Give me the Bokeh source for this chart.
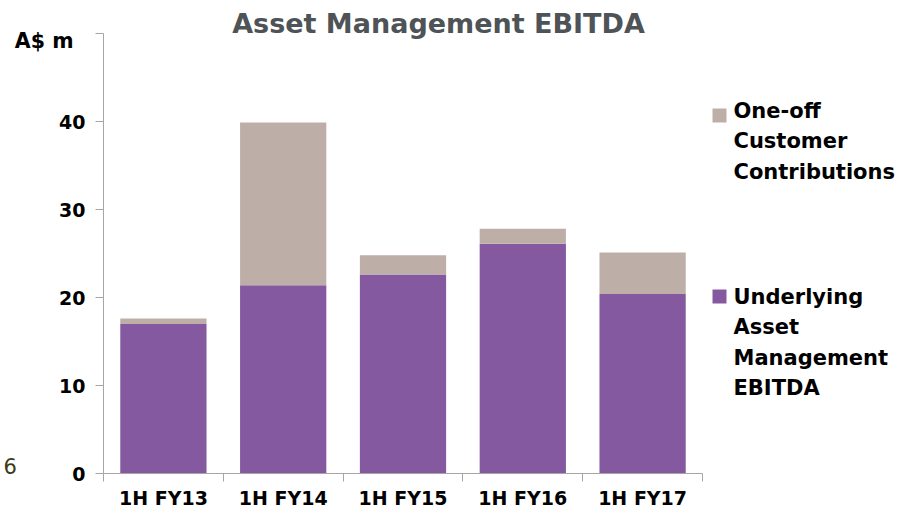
from bokeh.plotting import figure
from bokeh.models import Range1d, FixedTicker, ColumnDataSource
from bokeh.core.properties import value
from bokeh.embed import file_html
from bokeh.resources import INLINE

categories = ["1H FY13", "1H FY14", "1H FY15", "1H FY16", "1H FY17"]
underlying = [17.0, 21.4, 22.6, 26.1, 20.4]
one_off = [0.6, 18.5, 2.2, 1.7, 4.7]
y_ticks = [0, 10, 20, 30, 40, 50]
legend_one_off = ["One-off", "Customer", "Contributions"]
legend_underlying = ["Underlying", "Asset", "Management", "EBITDA"]
title_text = "Asset Management EBITDA"
unit_text = "A$ m"
page_number = "6"

FONT = "DejaVu Sans"
PURPLE = "#8459A0"
GREY = "#BDAFA8"
AXIS = "#A6A6A6"

W, H = 900, 512
# pixel geometry of the plotting area within the canvas
X0, PXU = 103.0, 119.8     # x=0 at px 103, 119.8 px per category
Y0, PYU = 473.0, 8.8       # y=0 at px 473, 8.8 px per unit

p = figure(width=W, height=H, output_backend="svg", toolbar_location=None,
           x_range=Range1d(-X0 / PXU, (W - X0) / PXU),
           y_range=Range1d(-(H - Y0) / PYU, Y0 / PYU),
           min_border=0)
p.outline_line_color = None
p.grid.visible = False
p.background_fill_color = "white"
p.border_fill_color = "white"

xs = [i + 0.5 for i in range(len(categories))]
tops = [u + o for u, o in zip(underlying, one_off)]
src = ColumnDataSource(dict(x=xs, u=underlying, o=one_off, t=tops))
p.vbar(x="x", bottom=0, top="u", width=0.72, source=src, fill_color=PURPLE, line_color=None)
p.vbar(x="x", bottom="u", top="t", width=0.72, source=src, fill_color=GREY, line_color=None)

# x axis
xa = p.xaxis[0]
xa.fixed_location = 0
xa.bounds = (0, len(categories))
xa.ticker = FixedTicker(ticks=xs, minor_ticks=list(range(len(categories) + 1)))
xa.major_label_overrides = {x: c for x, c in zip(xs, categories)}
xa.major_tick_out = 0
xa.major_tick_in = 0
xa.minor_tick_out = 8
xa.minor_tick_in = 0
xa.axis_line_color = AXIS
xa.minor_tick_line_color = AXIS
xa.major_label_text_font = FONT
xa.major_label_text_font_style = "bold"
xa.major_label_text_font_size = "19px"
xa.major_label_text_color = "black"
xa.major_label_standoff = 5

# y axis
ya = p.yaxis[0]
ya.fixed_location = 0
ya.bounds = (0, 50)
ya.ticker = FixedTicker(ticks=y_ticks)
ya.major_label_overrides = {50: ""}
ya.minor_tick_line_color = None
ya.major_tick_out = 8
ya.major_tick_in = 0
ya.axis_line_color = AXIS
ya.major_tick_line_color = AXIS
ya.major_label_text_font = FONT
ya.major_label_text_font_style = "bold"
ya.major_label_text_font_size = "19px"
ya.major_label_text_color = "black"
ya.major_label_standoff = 10

def dx(px):
    return (px - X0) / PXU

def dy(py):
    return (Y0 - py) / PYU

def txt(xs_, ys_, texts, size, color="black", style="bold", align="left"):
    p.text(x=xs_, y=ys_, text=texts, text_font=value(FONT), text_font_size=size,
           text_font_style=style, text_color=color, text_align=align,
           text_baseline="middle")

txt([dx(438)], [dy(23)], [title_text], "27px", color="#4D5356", align="center")
txt([dx(73)], [dy(40)], [unit_text], "20.5px", align="right")
txt([dx(3)], [dy(465)], [page_number], "21px", color="#3B3B14", style="normal")

# legend
LINE = 30.5
p.rect(x=[dx(719), dx(719)], y=[dy(115), dy(296)], width=14, height=14,
       width_units="screen", height_units="screen",
       fill_color=[GREY, PURPLE], line_color=None)
txt([dx(733)] * len(legend_one_off), [dy(110 + i * LINE) for i in range(len(legend_one_off))],
    legend_one_off, "21px")
txt([dx(733)] * len(legend_underlying), [dy(296 + i * LINE) for i in range(len(legend_underlying))],
    legend_underlying, "21px")

open("out.html", "w").write(file_html(p, INLINE))
